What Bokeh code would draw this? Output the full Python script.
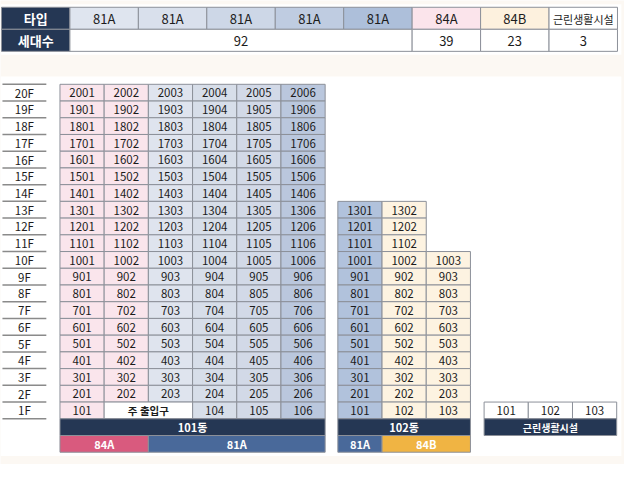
from bokeh.plotting import figure
from bokeh.models import Range1d, ColumnDataSource
from bokeh.embed import file_html
from bokeh.resources import INLINE
from bokeh.core.properties import value

# ---------------- data ----------------
unit_types = ["81A", "81A", "81A", "81A", "81A", "84A", "84B", "근린생활시설"]
household_counts = [92, 39, 23, 3]
household_spans = [5, 1, 1, 1]
floor_labels = ["20F", "19F", "18F", "17F", "16F", "15F", "14F", "13F", "12F", "11F",
                "10F", "9F", "8F", "7F", "6F", "5F", "4F", "3F", "2F", "1F"]
b101_lines = [1, 2, 3, 4, 5, 6]
b101_top_floor = [20, 20, 20, 20, 20, 20]
b101_entrance_lines = [2, 3]
b101_entrance_label = "주 출입구"
b101_type_bar = ["84A", "81A"]
b101_type_span = [2, 4]
b102_lines = [1, 2, 3]
b102_top_floor = [13, 13, 10]
b102_type_bar = ["81A", "84B"]
b102_type_span = [1, 2]
facility_units = ["101", "102", "103"]
building_names = ["101동", "102동", "근린생활시설"]
header_labels = ["타입", "세대수"]

# ---------------- styles / layout ----------------
FONT = "Noto Sans CJK KR"
NAVY = "#253754"
CREAM = "#fcf8f3"
GRID_LINE = "#8c9099"
TXT = "#1c1c1c"
type_fill = ["#dfe5ef", "#d9e0ec", "#cdd7e7", "#bfcce1", "#adbfda", "#fbe4eb", "#fdf1de", "#ffffff"]
b101_fill = ["#fae5ec", "#fae5ec", "#dfe4ee", "#d7dee9", "#d2d9e7", "#bac7dd"]
b102_fill = ["#b1c2dc", "#fdf3e1", "#fdf3e1"]
bar_fill = {"84A": "#d95a7e", "81A": "#49699a", "84B": "#f0b443"}

W, H = 640, 480
TOP_X0, TOP_CW, TOP_Y0, TOP_RH = 1.0, 70.2, 7.0, 22.8
GRID_Y0, RH, CW = 86.7, 17.3, 45.33
B101_X0, B102_X0, FAC_X0 = 61.0, 346.0, 496.0
FL_X0, FL_X1 = 2.0, 47.0
N_FLOORS = len(floor_labels)
CELL_FS = "11.5px"

p = figure(width=624, height=464, x_range=Range1d(0, W), y_range=Range1d(H, 0),
           output_backend="svg", toolbar_location=None, min_border=0,
           x_axis_location=None, y_axis_location=None)
p.grid.visible = False
p.outline_line_color = None
p.background_fill_color = CREAM
p.border_fill_color = CREAM

quads = dict(left=[], right=[], top=[], bottom=[], fill=[], edge=[])
texts = dict(x=[], y=[], text=[], color=[], size=[], style=[])


def cell(l, r, t, b, fill, label=None, color=TXT, size=CELL_FS, style="normal", edge=GRID_LINE):
    quads["left"].append(l); quads["right"].append(r)
    quads["top"].append(t); quads["bottom"].append(b)
    quads["fill"].append(fill); quads["edge"].append(edge)
    if label is not None:
        texts["x"].append((l + r) / 2); texts["y"].append((t + b) / 2 + 0.3)
        texts["text"].append(str(label)); texts["color"].append(color)
        texts["size"].append(size); texts["style"].append(style)


def row_top(floor):
    return GRID_Y0 + (N_FLOORS - floor) * RH


# white panels
panel_right = TOP_X0 + 9 * TOP_CW + 4
p.quad(left=[0, 0], right=[panel_right, panel_right],
       top=[TOP_Y0 - 3, GRID_Y0 - 8], bottom=[TOP_Y0 + 2 * TOP_RH + 3.5, GRID_Y0 + (N_FLOORS + 2) * RH + 4],
       fill_color="white", line_color=None)

# ---- top summary table ----
cell(TOP_X0, TOP_X0 + TOP_CW, TOP_Y0, TOP_Y0 + TOP_RH, NAVY, header_labels[0], "white", "13px", "bold")
for i, t in enumerate(unit_types):
    l = TOP_X0 + (i + 1) * TOP_CW
    cell(l, l + TOP_CW, TOP_Y0, TOP_Y0 + TOP_RH, type_fill[i], t, TXT,
         "13px" if len(t) < 5 else "11px")
y1 = TOP_Y0 + TOP_RH
cell(TOP_X0, TOP_X0 + TOP_CW, y1, y1 + TOP_RH, NAVY, header_labels[1], "white", "13px", "bold")
c = 1
for n, s in zip(household_counts, household_spans):
    l = TOP_X0 + c * TOP_CW
    cell(l, l + s * TOP_CW, y1, y1 + TOP_RH, "white", n, TXT, "13px")
    c += s

# ---- floor labels ----
for i, f in enumerate(floor_labels):
    texts["x"].append((FL_X0 + FL_X1) / 2); texts["y"].append(GRID_Y0 + (i + 0.5) * RH)
    texts["text"].append(f); texts["color"].append(TXT)
    texts["size"].append(CELL_FS); texts["style"].append("normal")
ys = [GRID_Y0 + i * RH for i in range(N_FLOORS + 1)]
p.segment(x0=[FL_X0] * len(ys), x1=[FL_X1] * len(ys), y0=ys, y1=ys, line_color="#8a8a8a", line_width=1.5)

# ---- building 101 ----
for li, (line, top) in enumerate(zip(b101_lines, b101_top_floor)):
    for floor in range(top, 0, -1):
        if floor == 1 and line in b101_entrance_lines:
            continue
        l = B101_X0 + li * CW
        t = row_top(floor)
        cell(l, l + CW, t, t + RH, b101_fill[li], f"{floor}{line:02d}")
ent = [b101_lines.index(x) for x in b101_entrance_lines]
cell(B101_X0 + min(ent) * CW, B101_X0 + (max(ent) + 1) * CW, row_top(1), row_top(1) + RH,
     "white", b101_entrance_label, TXT, "10.5px", "bold")
cell(B101_X0, B101_X0 + len(b101_lines) * CW, row_top(0), row_top(0) + RH, NAVY,
     building_names[0], "white", "11px", "bold")
c = 0
for t, s in zip(b101_type_bar, b101_type_span):
    l = B101_X0 + c * CW
    cell(l, l + s * CW, row_top(-1), row_top(-1) + RH, bar_fill[t], t, "white", "11px", "bold")
    c += s

# ---- building 102 ----
for li, (line, top) in enumerate(zip(b102_lines, b102_top_floor)):
    for floor in range(top, 0, -1):
        l = B102_X0 + li * CW
        t = row_top(floor)
        cell(l, l + CW, t, t + RH, b102_fill[li], f"{floor}{line:02d}")
cell(B102_X0, B102_X0 + len(b102_lines) * CW, row_top(0), row_top(0) + RH, NAVY,
     building_names[1], "white", "11px", "bold")
c = 0
for t, s in zip(b102_type_bar, b102_type_span):
    l = B102_X0 + c * CW
    cell(l, l + s * CW, row_top(-1), row_top(-1) + RH, bar_fill[t], t, "white", "11px", "bold")
    c += s

# ---- neighbourhood facility ----
for i, u in enumerate(facility_units):
    l = FAC_X0 + i * CW
    cell(l, l + CW, row_top(1), row_top(1) + RH, "white", u)
cell(FAC_X0, FAC_X0 + len(facility_units) * CW, row_top(0), row_top(0) + RH, NAVY,
     building_names[2], "white", "10px", "bold")

p.quad(left="left", right="right", top="top", bottom="bottom", fill_color="fill",
       line_color="edge", line_width=1, source=ColumnDataSource(quads))
p.text(x="x", y="y", text="text", text_color="color", text_font_size="size",
       text_font_style="style", text_align="center", text_baseline="middle",
       text_font=value(FONT), source=ColumnDataSource(texts))

open("out.html", "w").write(file_html(p, INLINE))
